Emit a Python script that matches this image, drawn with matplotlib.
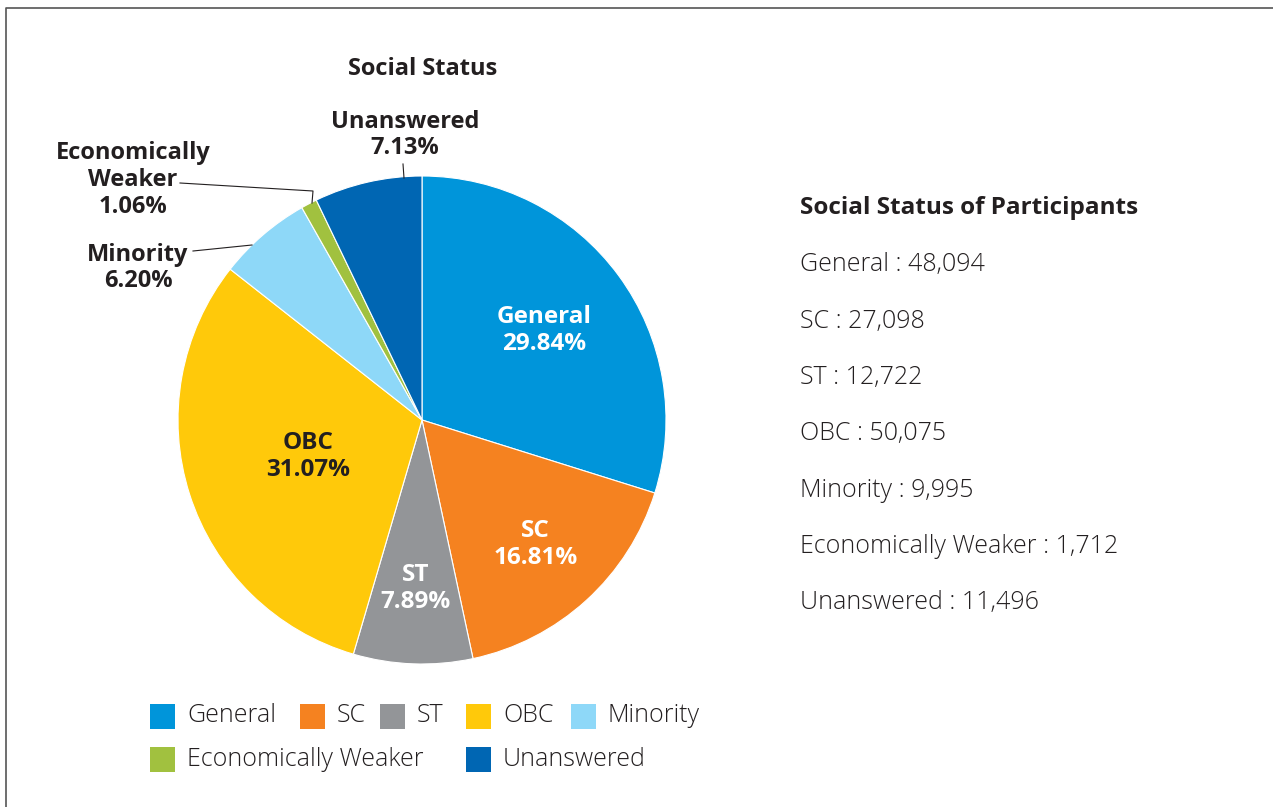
import numpy as np
import matplotlib.pyplot as plt
from matplotlib.patches import Rectangle

categories = ['General', 'SC', 'ST', 'OBC', 'Minority', 'Economically Weaker', 'Unanswered']
counts = [48094, 27098, 12722, 50075, 9995, 1712, 11496]
colors = ['#0095DA', '#F58220', '#939598', '#FFC90A', '#8ED8F8', '#A1C13F', '#0066B3']

W, H = 1273, 807
plt.rcParams['font.family'] = ['Open Sans', 'DejaVu Sans']
INK = '#231F20'

fig = plt.figure(figsize=(W / 100, H / 100), dpi=100)
ax = fig.add_axes([0, 0, 1, 1])

cx, cy, R = 422, 420, 244
total = sum(counts)
pcts = [c / total * 100 for c in counts]

# y axis is inverted below, so counterclock=True ends up clockwise on screen
wedges, _ = ax.pie(counts, colors=colors, startangle=-90, counterclock=True,
                   center=(cx, cy), radius=R, frame=True,
                   wedgeprops=dict(edgecolor='white', linewidth=0.8))
ax.set_xlim(0, W)
ax.set_ylim(H, 0)
ax.axis('off')

# frame lines (left and top)
ax.plot([6, 6, W], [H, 8, 8], color='#555555', lw=1.2)

# labels inside the big slices
inner = {0: (0.62, 'white'), 1: (0.69, 'white'), 2: (0.69, 'white'), 3: (0.49, INK)}
start = 0.0
mids = []
for p in pcts:
    mids.append(90 - (start + p / 2) * 3.6)
    start += p
for i, (frac, col) in inner.items():
    a = np.deg2rad(mids[i])
    x = cx + frac * R * np.cos(a)
    y = cy - frac * R * np.sin(a)
    ax.text(x, y, f'{categories[i]}\n{pcts[i]:.2f}%', ha='center', va='center',
            color=col, fontsize=17.5, fontweight='bold', linespacing=1.15)

# labels outside the small slices
lab = dict(ha='center', va='center', color=INK, fontsize=17,
           fontweight='bold', linespacing=1.15)
ax.text(138, 268, f'Minority\n{pcts[4]:.2f}%', **lab)
ax.plot([193, 252], [251, 245], color=INK, lw=0.8)
ax.text(133, 180, f'Economically\nWeaker\n{pcts[5]:.2f}%', **lab)
ax.plot([180, 313, 312], [183, 191, 203], color=INK, lw=0.8)
ax.text(405, 135, f'{categories[6]}\n{pcts[6]:.2f}%', **lab)
ax.plot([403, 404], [164, 178], color=INK, lw=0.8)

ax.text(423, 69, 'Social Status', ha='center', va='center', fontsize=17,
        fontweight='bold', color=INK)

# counts panel on the right
ax.text(800, 208, 'Social Status of Participants', ha='left', va='center',
        fontsize=17.5, fontweight='bold', color=INK)
for k, (name, c) in enumerate(zip(categories, counts)):
    ax.text(800, 265 + k * 56.3, f'{name} : {c:,}', ha='left', va='center',
            fontsize=18, color=INK, fontweight='light')

# legend squares
leg_pos = [(150, 716), (300, 716), (380, 716), (466, 716), (571, 716), (150, 759), (466, 759)]
for (lx, ly), name, col in zip(leg_pos, categories, colors):
    ax.add_patch(Rectangle((lx, ly - 12), 25, 25, facecolor=col, edgecolor='none'))
    ax.text(lx + 37, ly, name, ha='left', va='center', fontsize=18,
            color=INK, fontweight='light')

fig.savefig('out.png', dpi=100)
